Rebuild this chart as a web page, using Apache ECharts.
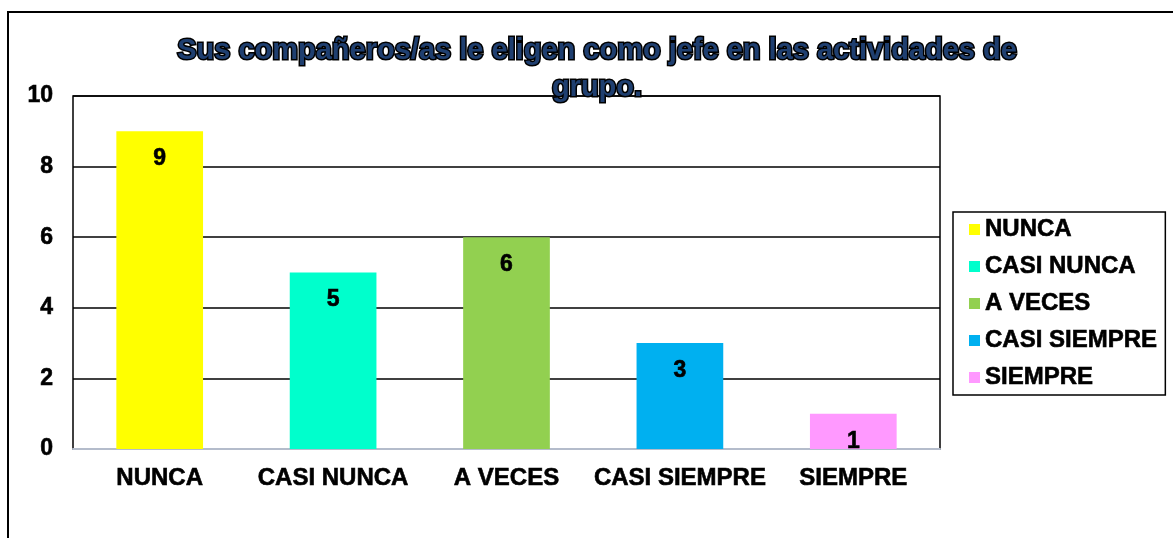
<!DOCTYPE html>
<html lang="es">
<head>
<meta charset="utf-8">
<title>Sus compañeros/as le eligen como jefe</title>
<script src="https://cdn.jsdelivr.net/npm/echarts@6/dist/echarts.min.js"></script>
<style>
  html, body { margin: 0; padding: 0; background: #fff; }
  #chart { width: 1173px; height: 538px; }
</style>
</head>
<body>
<div id="chart"></div>
<script>
// datos del gráfico
var categorias = ['NUNCA', 'CASI NUNCA', 'A VECES', 'CASI SIEMPRE', 'SIEMPRE'];
var valores = [9, 5, 6, 3, 1];
var colores = ['#FFFF00', '#00FFCC', '#92D050', '#00B0F0', '#FF99FF'];
var ticksY = [0, 2, 4, 6, 8, 10];
var titulo = 'Sus compañeros/as le eligen como jefe en las actividades de\ngrupo.';

var fuente = "'Liberation Sans', Arial, sans-serif";

// una serie por categoria para que salga en la leyenda con su color
var series = categorias.map(function (cat, i) {
    var d = categorias.map(function (c, j) { return j === i ? valores[i] : null; });
    return {
        name: cat,
        type: 'bar',
        stack: 'total',
        barWidth: '50%',
        data: d,
        itemStyle: { color: colores[i] },
        label: {
            show: true,
            position: 'insideTop',
            distance: 16,
            color: '#000',
            fontFamily: fuente,
            fontWeight: 'bold',
            fontSize: 23,
            textBorderColor: '#000',
            textBorderWidth: 0.6
        }
    };
});

var chart = echarts.init(document.getElementById('chart'));
chart.setOption({
    animation: false,
    grid: {
        left: 73, right: 233, top: 96, bottom: 89,
        show: true, borderColor: '#000', borderWidth: 1.5
    },
    legend: {
        orient: 'vertical',
        left: 953, top: 212,
        data: categorias,
        icon: 'rect',
        itemWidth: 11, itemHeight: 11,
        itemGap: 12,
        padding: [5, 8, 5, 16],
        borderColor: '#000', borderWidth: 1.5,
        textStyle: {
            color: '#000', fontFamily: fuente, fontWeight: 'bold', fontSize: 24, lineHeight: 25,
            textBorderColor: '#000', textBorderWidth: 0.6
        }
    },
    xAxis: {
        type: 'category',
        data: categorias,
        axisLine: { lineStyle: { color: '#b4bccb', width: 2 } },
        axisTick: { show: false },
        axisLabel: {
            interval: 0,
            color: '#000', fontFamily: fuente, fontWeight: 'bold', fontSize: 24, margin: 17,
            textBorderColor: '#000', textBorderWidth: 0.6
        }
    },
    yAxis: {
        type: 'value',
        min: ticksY[0], max: ticksY[ticksY.length - 1], interval: 2,
        axisLine: { show: false },
        axisTick: { show: false },
        splitLine: { lineStyle: { color: '#000', width: 1.5 } },
        axisLabel: {
            color: '#000', fontFamily: fuente, fontWeight: 'bold', fontSize: 23, margin: 20,
            textBorderColor: '#000', textBorderWidth: 0.6
        }
    },
    graphic: [
        {
            type: 'rect',
            shape: { x: 8, y: 12, width: 1300, height: 700 },
            style: { fill: 'none', stroke: '#000', lineWidth: 2 },
            silent: true
        },
        {
            type: 'text',
            x: 597, y: 69,
            z: 10,
            style: {
                text: titulo,
                align: 'center',
                verticalAlign: 'middle',
                font: 'bold 29px ' + fuente,
                lineHeight: 37,
                fill: '#1F3F70',
                stroke: '#000',
                lineWidth: 3
            }
        }
    ],
    series: series
});
</script>
</body>
</html>
